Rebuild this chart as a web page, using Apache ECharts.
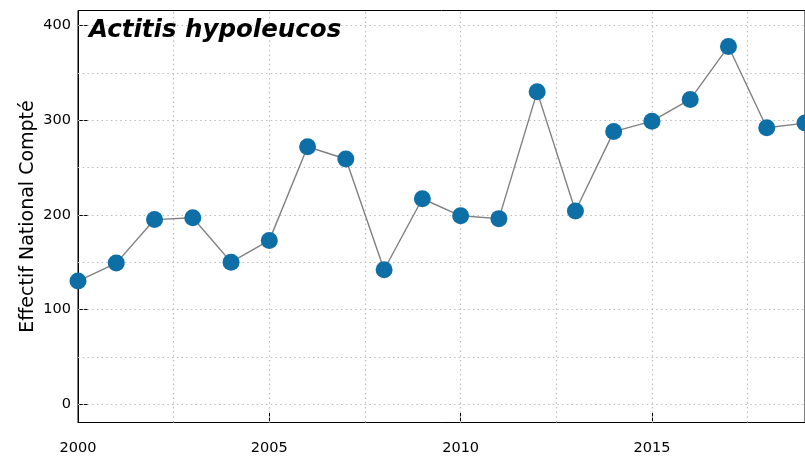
<!DOCTYPE html>
<html>
<head>
<meta charset="utf-8">
<script src="https://cdn.jsdelivr.net/npm/echarts@6/dist/echarts.min.js"></script>
<style>
html,body{margin:0;padding:0;background:#fff;overflow:hidden;}
#chart{width:805px;height:456px;}
</style>
</head>
<body>
<div id="chart"></div>
<script>
var years = [2000,2001,2002,2003,2004,2005,2006,2007,2008,2009,2010,2011,2012,2013,2014,2015,2016,2017,2018,2019];
var counts = [130,149,195,197,150,173,272,259,142,217,199,196,330,204,288,299,322,378,292,297];
var yGridValues = [0,50,100,150,200,250,300,350,400];
var xGridValues = [2002.5,2005,2007.5,2010,2012.5,2015,2017.5];
var titleText = 'Actitis hypoleucos';
var yAxisTitle = 'Effectif National Compté';

var chart = echarts.init(document.getElementById('chart'), null, {renderer:'canvas'});
var FONT = 'DejaVu Sans';
var gridLineStyle = {color:'#bdbdbd', width:1.2, type:[1.5,3.2]};

var gridMarks = yGridValues.map(function(v){return {yAxis:v};})
  .concat(xGridValues.map(function(v){return {xAxis:v};}));

var option = {
  animation:false,
  backgroundColor:'#ffffff',
  grid:{left:78, right:0, top:10.5, bottom:33.5, show:true, borderColor:'#000', borderWidth:1,
    backgroundColor:'transparent', containLabel:false, outerBoundsMode:'none'},
  xAxis:{
    type:'value', min:2000, max:2019, interval:5,
    axisLine:{show:true, onZero:false, lineStyle:{color:'#000', width:1}},
    axisTick:{show:true, inside:true, length:10, lineStyle:{color:'#000', width:1}},
    axisLabel:{margin:18, color:'#000', fontFamily:FONT, fontSize:14.5,
      formatter:function(v){return (v % 5 === 0) ? String(v) : '';}},
    splitLine:{show:false}
  },
  yAxis:{
    type:'value', min:-19.5, max:416, splitNumber:4,
    axisLine:{show:true, onZero:false, lineStyle:{color:'#000', width:1}},
    axisTick:{show:true, inside:true, length:10, lineStyle:{color:'#000', width:1}},
    axisLabel:{margin:7, color:'#000', fontFamily:FONT, fontSize:14.5,
      formatter:function(v){return (v % 100 === 0) ? String(v) : '';}},
    splitLine:{show:false}
  },
  series:[
    {
      type:'line', data:[], z:1, silent:true,
      markLine:{silent:true, symbol:['none','none'], label:{show:false}, animation:false,
        lineStyle:gridLineStyle, emphasis:{disabled:true}, data:gridMarks}
    },
    {
      type:'line', z:5,
      data: years.map(function(y,i){return [y, counts[i]];}),
      symbol:'circle', symbolSize:17,
      lineStyle:{color:'#808080', width:1.4},
      itemStyle:{color:'#0e6fa7'},
      emphasis:{disabled:true}
    }
  ],
  graphic:[
    {type:'text', x:89, y:30.5, z:10, style:{text:titleText, fill:'#000',
      font:'italic bold 24.5px "DejaVu Sans"', textAlign:'left', textVerticalAlign:'middle'}},
    {type:'text', x:28, y:216.5, rotation:Math.PI/2, z:10, style:{text:yAxisTitle, fill:'#000',
      font:'19px "DejaVu Sans"', textAlign:'center', textVerticalAlign:'middle'}}
  ]
};
chart.setOption(option);
</script>
</body>
</html>
